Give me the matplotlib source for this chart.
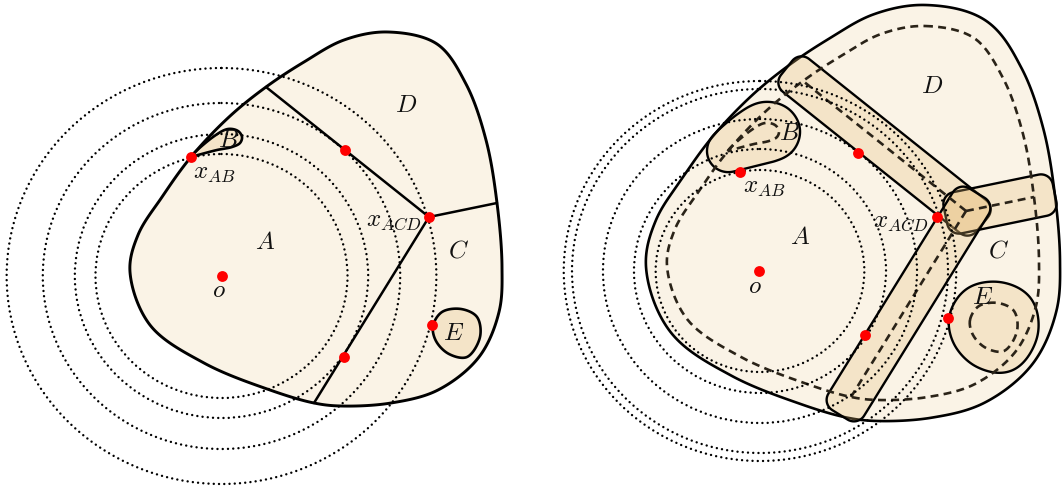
import numpy as np
import matplotlib
matplotlib.use('Agg')
import matplotlib.pyplot as plt
from matplotlib.patches import Polygon, Ellipse

plt.rcParams['mathtext.fontset'] = 'cm'

# ---------------- data (pixel coordinates of the left panel) ----------------
outline_pts = [(388, 32), (437, 44), (466, 84), (486, 140), (497, 203), (502, 267),
               (499, 312), (479, 357), (438, 390), (391, 403), (341, 406), (314, 403),
               (270, 390), (204, 363), (150, 325), (130, 272), (138, 235), (162, 197),
               (191, 157), (229, 117), (266, 87), (304, 62), (344, 40)]
blob_B = [(191, 157), (213, 137), (228, 129), (238, 131), (242, 137), (240, 143),
          (232, 147), (217, 150), (198, 155)]
blob_E = [(433, 326), (442, 312), (461, 309), (477, 317), (480, 337), (467, 357),
          (449, 354), (436, 341)]
junction = (429, 217)
bound_ends = {'AD': (266, 87), 'CD': (497, 203), 'AC': (314, 403)}

left_center = (221.5, 276)
left_radii = [122, 142, 173, 208]
left_dots = [(222, 276), (191, 157), (345, 150), (429, 217), (344, 357), (432, 325)]
left_labels = [('$A$', 265, 242), ('$B$', 228, 140), ('$C$', 459, 251), ('$D$', 406, 105),
               ('$E$', 454, 333), ('$o$', 219, 290), ('$x_{AB}$', 214, 173),
               ('$x_{ACD}$', 394, 220)]

shift = (537, -6)
grow = 21
tube_half = 21
right_center = (760, 271)
right_radii = [101, 122, 152, 182, 190]
right_dots = [(759, 271), (740, 172), (858, 153), (937, 217), (865, 335), (948, 318)]
right_labels = [('$A$', 800, 237), ('$B$', 789, 133), ('$C$', 998, 251), ('$D$', 932, 86),
                ('$E$', 983, 297), ('$o$', 755, 286), ('$x_{AB}$', 764, 187),
                ('$x_{ACD}$', 901, 221)]

x_stretch = 1.033

cream = '#faf3e6'
blob_rgba = (0.90, 0.745, 0.47, 0.27)
dash_col = '#2a2318'


# ---------------- helpers ----------------
def cr_segment(p0, p1, p2, p3, n, alpha=0.5):
    def tj(ti, pi, pj):
        return ti + max(np.linalg.norm(pj - pi), 1e-6) ** alpha
    t0 = 0.0
    t1 = tj(t0, p0, p1)
    t2 = tj(t1, p1, p2)
    t3 = tj(t2, p2, p3)
    t = np.linspace(t1, t2, n, endpoint=False)[:, None]
    A1 = (t1 - t) / (t1 - t0) * p0 + (t - t0) / (t1 - t0) * p1
    A2 = (t2 - t) / (t2 - t1) * p1 + (t - t1) / (t2 - t1) * p2
    A3 = (t3 - t) / (t3 - t2) * p2 + (t - t2) / (t3 - t2) * p3
    B1 = (t2 - t) / (t2 - t0) * A1 + (t - t0) / (t2 - t0) * A2
    B2 = (t3 - t) / (t3 - t1) * A2 + (t - t1) / (t3 - t1) * A3
    return (t2 - t) / (t2 - t1) * B1 + (t - t1) / (t2 - t1) * B2


def smooth_closed(pts, n=20):
    P = np.asarray(pts, float)
    m = len(P)
    out = []
    for i in range(m):
        out.append(cr_segment(P[(i - 1) % m], P[i], P[(i + 1) % m], P[(i + 2) % m], n))
    return np.vstack(out)


def convex_hull(points):
    pts = sorted(set(map(tuple, np.round(points, 3))))

    def cross(o, a, b):
        return (a[0] - o[0]) * (b[1] - o[1]) - (a[1] - o[1]) * (b[0] - o[0])
    lower, upper = [], []
    for p in pts:
        while len(lower) >= 2 and cross(lower[-2], lower[-1], p) <= 0:
            lower.pop()
        lower.append(p)
    for p in reversed(pts):
        while len(upper) >= 2 and cross(upper[-2], upper[-1], p) <= 0:
            upper.pop()
        upper.append(p)
    return np.array(lower[:-1] + upper[:-1])


def dilate(curve, r, k=120):
    a = np.linspace(0, 2 * np.pi, k, endpoint=False)
    circ = np.c_[r * np.cos(a), r * np.sin(a)]
    allp = (curve[:, None, :] + circ[None, :, :]).reshape(-1, 2)
    return convex_hull(allp)


def rounded_tube(p0, p1, w, ext, rc, n=12):
    p0 = np.array(p0, float)
    p1 = np.array(p1, float)
    d = p1 - p0
    L = np.linalg.norm(d)
    d /= L
    nrm = np.array([-d[1], d[0]])
    u0, u1, v0, v1 = -ext, L + ext, -w, w
    corners = [(u1 - rc, v1 - rc, 0), (u0 + rc, v1 - rc, 90),
               (u0 + rc, v0 + rc, 180), (u1 - rc, v0 + rc, 270)]
    pts = []
    for cu, cv, a0 in corners:
        a = np.radians(np.linspace(a0, a0 + 90, n))
        pts.append(np.c_[cu + rc * np.cos(a), cv + rc * np.sin(a)])
    loc = np.vstack(pts)
    return p0 + loc[:, :1] * d + loc[:, 1:] * nrm


def dotted_circles(ax, c, radii):
    for r in radii:
        ax.add_patch(Ellipse(c, 2 * r * x_stretch, 2 * r, fill=False, ec='black',
                             lw=1.75, ls=(0, (0.01, 2.15)), capstyle='round', zorder=5))


# ---------------- figure ----------------
fig = plt.figure(figsize=(10.62, 4.91), dpi=100)
ax = fig.add_axes([0, 0, 1, 1])
ax.set_xlim(0, 1062)
ax.set_ylim(491, 0)
ax.axis('off')

outline = smooth_closed(outline_pts, 24)
B_curve = smooth_closed(blob_B, 16)
E_curve = smooth_closed(blob_E, 20)
sh = np.array(shift, float)

# ----- left panel -----
ax.add_patch(Polygon(outline, closed=True, fc=cream, ec='black', lw=2.1, zorder=1,
                     joinstyle='round'))
for key, end in bound_ends.items():
    ax.plot([junction[0], end[0]], [junction[1], end[1]], color='black', lw=1.8,
            zorder=2, solid_capstyle='round')
for cur in (B_curve, E_curve):
    ax.add_patch(Polygon(cur, closed=True, fc=blob_rgba, ec='black', lw=1.9, zorder=3,
                         joinstyle='round'))
dotted_circles(ax, left_center, left_radii)
lx, ly = zip(*left_dots)
ax.plot(lx, ly, 'o', color='#ff0000', ms=7.8, mec='none', zorder=7)
for s, x, y in left_labels:
    ax.text(x, y, s, fontsize=18, ha='center', va='center', zorder=8, color='#111111')

# ----- right panel -----
out_big = dilate(outline + sh, grow)
ax.add_patch(Polygon(out_big, closed=True, fc=cream, ec='black', lw=1.9, zorder=1,
                     joinstyle='round'))
jn = np.array(junction, float) + sh
for key, end in bound_ends.items():
    e = np.array(end, float) + sh
    ax.add_patch(Polygon(rounded_tube(jn, e, tube_half, tube_half, 12), closed=True,
                         fc=blob_rgba, ec='black', lw=1.7, zorder=2, joinstyle='round'))
for cur in (B_curve, E_curve):
    ax.add_patch(Polygon(dilate(cur + sh, grow), closed=True, fc=blob_rgba, ec='black',
                         lw=1.7, zorder=2, joinstyle='round'))

dash = (0, (3.0, 2.0))
for cur in (outline, B_curve, E_curve):
    c = np.vstack([cur, cur[:1]]) + sh
    ax.plot(c[:, 0], c[:, 1], color=dash_col, lw=1.9, ls=dash, zorder=4)
for key, end in bound_ends.items():
    e = np.array(end, float) + sh
    ax.plot([jn[0], e[0]], [jn[1], e[1]], color=dash_col, lw=1.9, ls=dash, zorder=4)

dotted_circles(ax, right_center, right_radii)
rx, ry = zip(*right_dots)
ax.plot(rx, ry, 'o', color='#ff0000', ms=7.8, mec='none', zorder=7)
for s, x, y in right_labels:
    ax.text(x, y, s, fontsize=18, ha='center', va='center', zorder=8, color='#111111')

fig.savefig('out.png', dpi=100)
